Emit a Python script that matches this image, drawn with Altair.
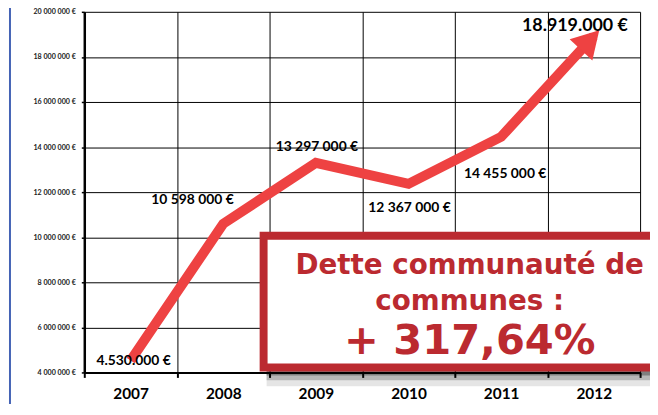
import altair as alt
import pandas as pd

years = ["2007", "2008", "2009", "2010", "2011", "2012"]
values = [4530000, 10598000, 13297000, 12367000, 14455000, 18919000]
labels = ["4.530.000 €", "10 598 000 €", "13 297 000 €", "12 367 000 €", "14 455 000 €", "18.919.000 €"]
y_ticks = [4000000, 6000000, 8000000, 10000000, 12000000, 14000000, 16000000, 18000000, 20000000]
box_lines = ["Dette communauté de", "communes :", "+ 317,64%"]

df = pd.DataFrame({"year": years, "value": values, "label": labels})
one = pd.DataFrame({"k": [0]})

RED = "#EE4242"
BOXRED = "#BB2A30"

x_enc = alt.X(
    "year:O",
    bandPosition=0.5,
    scale=alt.Scale(type="band", paddingInner=0, paddingOuter=0),
    axis=alt.Axis(
        title=None, labelAngle=0, tickBand="extent", grid=True,
        gridColor="black", gridWidth=1, domainColor="black", domainWidth=2,
        tickColor="black", tickWidth=2, tickSize=5,
        labelFont="Lato", labelFontWeight="bold", labelFontSize=15.5,
        labelPadding=9, labelColor="black",
    ),
)
y_enc = alt.Y(
    "value:Q",
    scale=alt.Scale(domain=[4000000, 20000000], nice=False, zero=False),
    axis=alt.Axis(
        title=None, values=y_ticks, grid=True, gridColor="black", gridWidth=1,
        domainColor="black", domainWidth=2.5, tickColor="black", tickWidth=1.5,
        tickSize=3, labelFont="Lato", labelFontWeight="bold", labelFontSize=7.2,
        labelColor="#222222", labelPadding=6,
        labelExpr="replace(replace(format(datum.value, ','), ',', ' '), ',', ' ') + ' €'",
    ),
)

base = alt.Chart(df)

line = base.mark_line(color=RED, strokeWidth=10, strokeJoin="miter", strokeCap="butt").encode(x=x_enc, y=y_enc)

arrow = base.transform_filter(alt.datum.year == "2012").mark_point(
    shape="M0,-0.3 L-0.58,0.7 L0.58,0.7 Z", angle=43, size=2916,
    filled=True, color=RED, opacity=1, strokeWidth=0,
).encode(x=x_enc, y=y_enc)

offsets = {
    "2007": (3, 1, 14),
    "2008": (-31, -24, 14),
    "2009": (1, -16, 14),
    "2010": (1, 24, 14),
    "2011": (4, 38, 14),
    "2012": (-19, -10, 18),
}
texts = []
for yr, (dx, dy, fs) in offsets.items():
    texts.append(
        base.transform_filter(alt.datum.year == yr).mark_text(
            font="Lato", fontWeight="bold", fontSize=fs, color="black",
            dx=dx, dy=dy, baseline="middle", align="center",
        ).encode(x=x_enc, y=y_enc, text="label:N")
    )

oc = alt.Chart(one)
shadows = [
    oc.mark_rect(color="#000000", opacity=op).encode(
        x=alt.value(184), x2=alt.value(600), y=alt.value(360), y2=alt.value(yb)
    )
    for yb, op in [(367, 0.3), (372, 0.2), (378, 0.1)]
]
box = oc.mark_rect(fill="white", stroke=BOXRED, strokeWidth=8).encode(
    x=alt.value(181), x2=alt.value(600), y=alt.value(226), y2=alt.value(359)
)
box_texts = []
for t, fs, yb in zip(box_lines, [28, 28, 42], [265, 301, 345]):
    box_texts.append(
        alt.Chart(pd.DataFrame({"t": [t]})).mark_text(
            font="DejaVu Sans", fontWeight="bold", fontSize=fs, color=BOXRED,
            align="center", baseline="alphabetic",
        ).encode(x=alt.value(389), y=alt.value(yb), text="t:N")
    )

strip = oc.mark_rule(color="#4463B5", strokeWidth=2).encode(
    x=alt.value(-75), y=alt.value(-10), y2=alt.value(420)
)

chart = alt.layer(line, arrow, *texts, *shadows, box, *box_texts, strip).properties(
    width=561, height=364,
    autosize=alt.AutoSizeParams(type="none"),
    padding={"left": 77, "top": 2, "right": 10, "bottom": 30},
).configure_view(stroke=None)

chart.save("out.html", embed_options={"renderer": "svg", "actions": False})
